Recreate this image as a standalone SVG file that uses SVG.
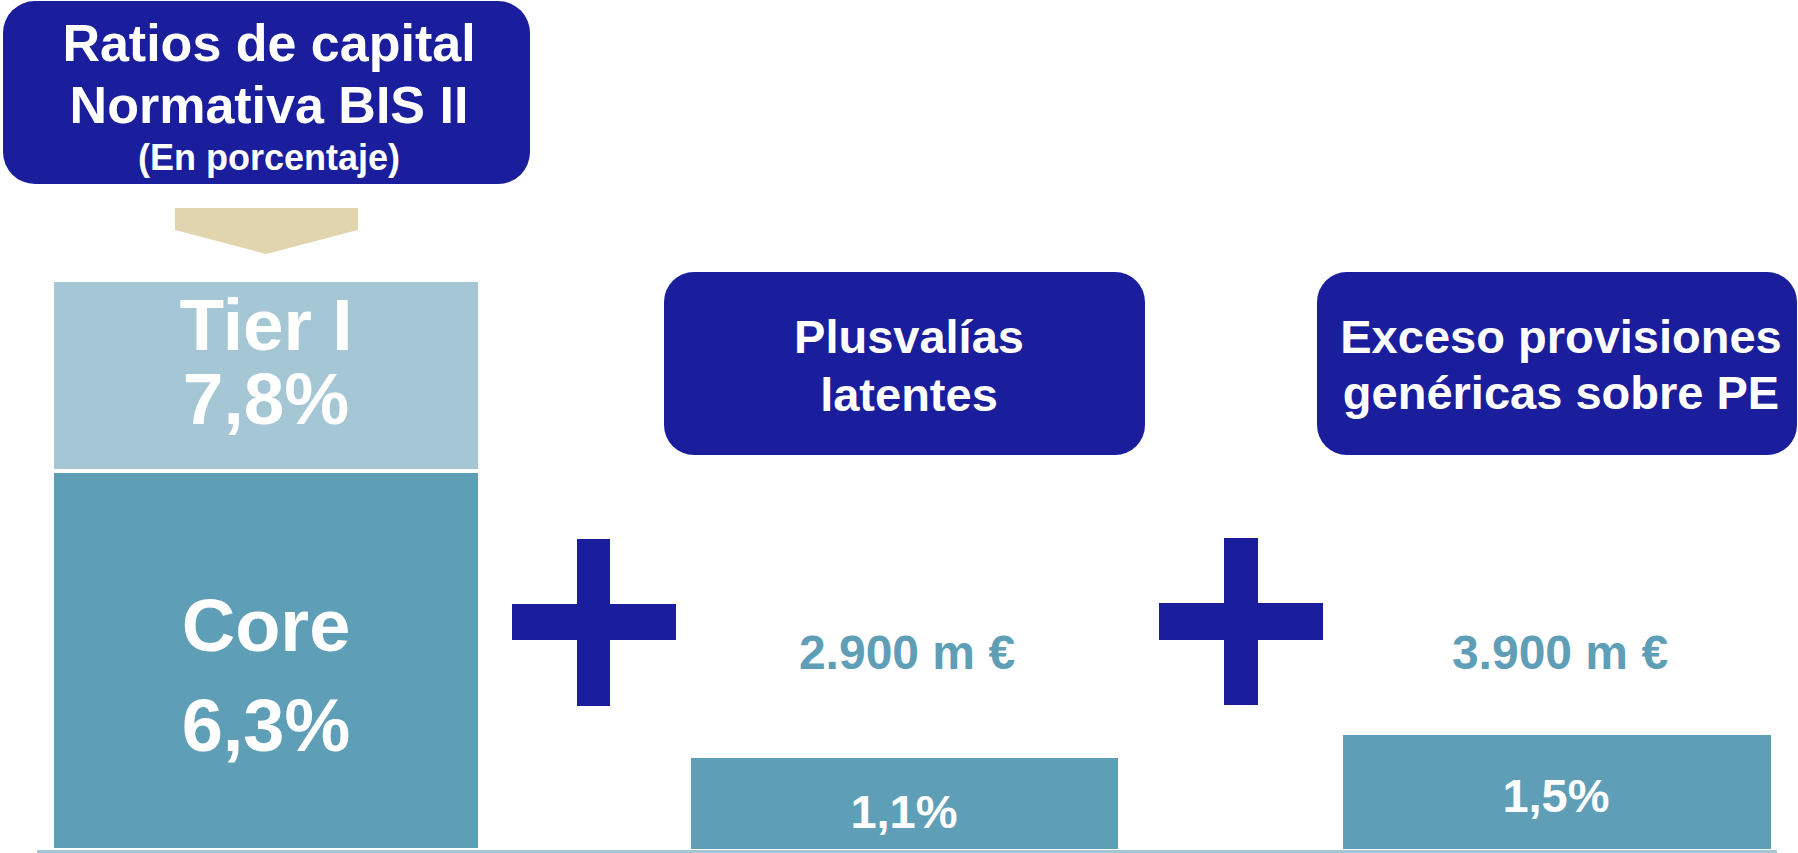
<svg xmlns="http://www.w3.org/2000/svg" width="1798" height="853" viewBox="0 0 1798 853">
<style>
.navy{fill:#1A1E9C}
.light{fill:#A5C7D5}
.teal{fill:#5F9EB7}
.t{font-family:"Liberation Sans",Arial,sans-serif;font-weight:bold;text-anchor:middle}
.w{fill:#FFFFFF}
.tc{fill:#5F9EB7}
</style>
<rect width="1798" height="853" fill="#FFFFFF"/>
<g id="title">
<rect class="navy" x="3" y="1" width="527" height="183" rx="32" ry="32"/>
<text class="t w" x="269" y="61" font-size="52">Ratios de capital</text>
<text class="t w" x="269" y="123" font-size="52">Normativa BIS II</text>
<text class="t w" x="269" y="170" font-size="36">(En porcentaje)</text>
</g>
<g id="connectors">
<polygon fill="#E1D5AF" points="175,208 358,208 358,230 266,254 175,230"/>
</g>
<g id="tier1">
<rect class="light" x="54" y="282" width="424" height="187"/>
<text class="t w" x="266" y="350" font-size="73">Tier I</text>
<text class="t w" x="266" y="424" font-size="73">7,8%</text>
</g>
<g id="core">
<rect class="teal" x="54" y="473" width="424" height="375"/>
<text class="t w" x="266" y="651" font-size="74">Core</text>
<text class="t w" x="266" y="751" font-size="74">6,3%</text>
</g>
<g id="plus1">
<rect class="navy" x="512" y="604" width="164" height="36"/>
<rect class="navy" x="577" y="539" width="33" height="167"/>
</g>
<g id="plusvalias">
<rect class="navy" x="664" y="272" width="481" height="183" rx="30" ry="30"/>
<text class="t w" x="909" y="353" font-size="47">Plusvalías</text>
<text class="t w" x="909" y="411" font-size="47">latentes</text>
</g>
<g id="plusvalias-value">
<text class="t tc" x="907" y="669" font-size="48">2.900 m €</text>
</g>
<g id="bar-1-1">
<rect class="teal" x="691" y="758" width="427" height="91"/>
<text class="t w" x="904" y="828" font-size="47">1,1%</text>
</g>
<g id="plus2">
<rect class="navy" x="1159" y="603" width="164" height="37"/>
<rect class="navy" x="1224" y="538" width="34" height="167"/>
</g>
<g id="exceso">
<rect class="navy" x="1317" y="272" width="480" height="183" rx="30" ry="30"/>
<text class="t w" x="1561" y="353" font-size="47">Exceso provisiones</text>
<text class="t w" x="1561" y="409" font-size="47">genéricas sobre PE</text>
</g>
<g id="exceso-value">
<text class="t tc" x="1560" y="669" font-size="48">3.900 m €</text>
</g>
<g id="bar-1-5">
<rect class="teal" x="1343" y="735" width="428" height="114"/>
<text class="t w" x="1556" y="812" font-size="47">1,5%</text>
</g>
<g id="baseline">
<rect class="light" x="37" y="850" width="1740" height="3"/>
</g>
</svg>
